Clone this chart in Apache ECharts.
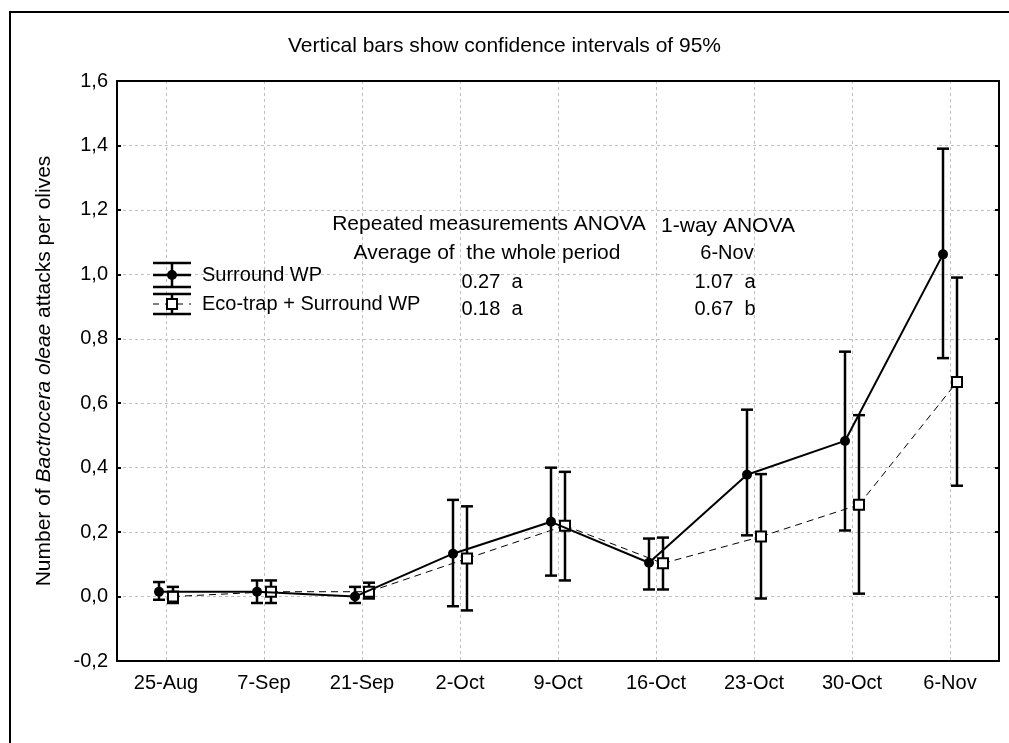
<!DOCTYPE html>
<html>
<head>
<meta charset="utf-8">
<script src="https://cdn.jsdelivr.net/npm/echarts@6/dist/echarts.min.js"></script>
<style>html,body{margin:0;padding:0;background:#fff;}#chart{width:1009px;height:743px;}</style>
</head>
<body>
<div id="chart"></div>
<script>
const categories = ['25-Aug','7-Sep','21-Sep','2-Oct','9-Oct','16-Oct','23-Oct','30-Oct','6-Nov'];
const surroundMean  = [0.015, 0.015, 0.0,  0.133, 0.232, 0.105, 0.378, 0.483, 1.062];
const surroundUpper = [0.045, 0.05,  0.03, 0.30,  0.40,  0.18,  0.58,  0.76,  1.39];
const surroundLower = [-0.01, -0.02, -0.02, -0.03, 0.065, 0.022, 0.19, 0.205, 0.74];
const ecoMean  = [0.0,  0.015, 0.015, 0.118, 0.22,  0.103, 0.186, 0.285, 0.666];
const ecoUpper = [0.03, 0.05,  0.043, 0.28,  0.387, 0.183, 0.38,  0.563, 0.99];
const ecoLower = [-0.02, -0.02, -0.006, -0.043, 0.05, 0.022, -0.006, 0.009, 0.344];
const yTicks = { min: -0.2, max: 1.6, interval: 0.2 };
const titleText = 'Vertical bars show confidence intervals of 95%';
const seriesNames = ['Surround WP', 'Eco-trap + Surround WP'];
const annoHeader = ['Repeated measurements ANOVA', '1-way ANOVA'];
const annoSub = ['Average of  the whole period', '6-Nov'];
const annoSurround = ['0.27  a', '1.07  a'];
const annoEco = ['0.18  a', '0.67  b'];

const FONT = 'Liberation Sans, Arial, sans-serif';
const FS = 20;
const chart = echarts.init(document.getElementById('chart'));

function makeSeries(name, mean, lower, upper, offset, solid) {
  return {
    type: 'custom',
    name: name,
    xAxisIndex: 0, yAxisIndex: 0,
    data: mean.map((v, i) => [i, v, lower[i], upper[i]]),
    z: solid ? 4 : 3,
    renderItem: function (params, api) {
      const i = api.value(0);
      const p = api.coord([i, api.value(1)]);
      const lo = api.coord([i, api.value(2)]);
      const hi = api.coord([i, api.value(3)]);
      const x = p[0] + offset;
      const children = [];
      if (i < mean.length - 1) {
        const q = api.coord([i + 1, mean[i + 1]]);
        children.push({
          type: 'line', z2: 1,
          shape: { x1: x, y1: p[1], x2: q[0] + offset, y2: q[1] },
          style: { stroke: '#000', lineWidth: solid ? 2 : 1, lineDash: solid ? null : [7, 5] }
        });
      }
      const cw = 6;
      const eb = { stroke: '#000', lineWidth: 2.5 };
      children.push({ type: 'line', z2: 2, shape: { x1: x, y1: hi[1], x2: x, y2: lo[1] }, style: eb });
      children.push({ type: 'line', z2: 2, shape: { x1: x - cw, y1: hi[1], x2: x + cw, y2: hi[1] }, style: eb });
      children.push({ type: 'line', z2: 2, shape: { x1: x - cw, y1: lo[1], x2: x + cw, y2: lo[1] }, style: eb });
      if (solid) {
        children.push({ type: 'circle', z2: 3, shape: { cx: x, cy: p[1], r: 5 }, style: { fill: '#000' } });
      } else {
        children.push({ type: 'rect', z2: 3, shape: { x: x - 5, y: p[1] - 5, width: 10, height: 10 },
          style: { fill: '#fff', stroke: '#000', lineWidth: 2 } });
      }
      return { type: 'group', children: children };
    }
  };
}

function legendIcon(cx, ytop, ymid, ybot, solid) {
  const s = { stroke: '#000', lineWidth: 2.5 };
  const items = [
    { type: 'line', shape: { x1: cx - 19, y1: ytop, x2: cx + 19, y2: ytop }, style: s },
    { type: 'line', shape: { x1: cx - 19, y1: ybot, x2: cx + 19, y2: ybot }, style: s },
    { type: 'line', shape: { x1: cx, y1: ytop, x2: cx, y2: ybot }, style: s },
    { type: 'line', shape: { x1: cx - 19, y1: ymid, x2: cx + 19, y2: ymid },
      style: { stroke: '#000', lineWidth: solid ? 2.5 : 1, lineDash: solid ? null : [6, 6] } }
  ];
  if (solid) items.push({ type: 'circle', shape: { cx: cx, cy: ymid, r: 5 }, style: { fill: '#000' } });
  else items.push({ type: 'rect', shape: { x: cx - 5, y: ymid - 5, width: 10, height: 10 }, style: { fill: '#fff', stroke: '#000', lineWidth: 2 } });
  return items;
}

function txt(text, x, y, align, size) {
  return { type: 'text', x: x, y: y, z: 10,
    style: { text: text, font: (size || FS) + 'px ' + FONT, fill: '#000', align: align || 'center', verticalAlign: 'middle' } };
}

const tickFmt = v => v.toFixed(1).replace('.', ',');
// helper axis (half-category steps) used only to place vertical grid lines at category centres
const gridSlots = categories.flatMap(c => ['', c]).concat(['']);

const option = {
  animation: false,
  backgroundColor: '#fff',
  title: {
    text: titleText, left: 'center', top: 31,
    textStyle: { fontFamily: FONT, fontSize: 21, fontWeight: 'normal', color: '#000' }
  },
  grid: { left: 117, top: 81, right: 10, bottom: 82, show: false },
  xAxis: [{
    type: 'category', data: categories, boundaryGap: true,
    axisLine: { onZero: false, lineStyle: { color: '#000', width: 2 } },
    axisTick: { inside: true, alignWithLabel: true, length: 5, lineStyle: { color: '#000', width: 2 } },
    axisLabel: { color: '#000', fontFamily: FONT, fontSize: FS, margin: 12 },
    splitLine: { show: false }
  }, {
    type: 'category', data: categories, position: 'top', boundaryGap: true,
    axisLine: { onZero: false, lineStyle: { color: '#000', width: 2 } },
    axisTick: { inside: true, alignWithLabel: true, length: 5, lineStyle: { color: '#000', width: 2 } },
    axisLabel: { show: false }, splitLine: { show: false }
  }, {
    type: 'category', data: gridSlots, boundaryGap: false, position: 'bottom',
    axisLine: { show: false, onZero: false }, axisTick: { show: false }, axisLabel: { show: false },
    splitLine: { show: true, interval: (i) => i % 2 === 1, lineStyle: { color: '#c0c0c0', type: [3, 3], width: 1 } }
  }],
  yAxis: [{
    type: 'value', min: yTicks.min, max: yTicks.max, interval: yTicks.interval,
    axisLine: { show: true, onZero: false, lineStyle: { color: '#000', width: 2 } },
    axisTick: { show: true, inside: true, length: 4, lineStyle: { color: '#000', width: 2 } },
    axisLabel: { color: '#000', fontFamily: FONT, fontSize: FS, margin: 9, formatter: tickFmt },
    splitLine: { show: true, lineStyle: { color: '#c0c0c0', type: [3, 3], width: 1 } },
    name: '{n|Number of }{i|Bactrocera oleae}{n| attacks per olives}',
    nameLocation: 'middle', nameGap: 62, nameRotate: 90,
    nameTextStyle: {
      rich: {
        n: { fontFamily: FONT, fontSize: 21, color: '#000' },
        i: { fontFamily: FONT, fontSize: 21, color: '#000', fontStyle: 'italic' }
      }
    }
  }, {
    type: 'value', min: yTicks.min, max: yTicks.max, interval: yTicks.interval, position: 'right',
    axisLine: { show: true, onZero: false, lineStyle: { color: '#000', width: 2 } },
    axisTick: { show: true, inside: true, length: 4, lineStyle: { color: '#000', width: 2 } },
    axisLabel: { show: false }, splitLine: { show: false }
  }],
  series: [
    makeSeries(seriesNames[1], ecoMean, ecoLower, ecoUpper, 7, false),
    makeSeries(seriesNames[0], surroundMean, surroundLower, surroundUpper, -7, true)
  ],
  graphic: [
    { type: 'rect', z: 0, shape: { x: 10, y: 12, width: 1200, height: 900 }, style: { fill: 'none', stroke: '#000', lineWidth: 2 } },
    ...legendIcon(172, 263, 275, 287, true).map(o => Object.assign(o, { z: 10 })),
    ...legendIcon(172, 294, 304, 314, false).map(o => Object.assign(o, { z: 10 })),
    txt(seriesNames[0], 202, 275, 'left'),
    txt(seriesNames[1], 202, 304, 'left'),
    txt(annoHeader[0], 489, 224, 'center', 21),
    txt(annoHeader[1], 728, 226, 'center', 21),
    txt(annoSub[0], 487, 253, 'center', 21),
    txt(annoSub[1], 727, 253),
    txt(annoSurround[0], 492, 282),
    txt(annoSurround[1], 725, 282),
    txt(annoEco[0], 492, 309),
    txt(annoEco[1], 725, 309)
  ]
};
chart.setOption(option);
</script>
</body>
</html>
